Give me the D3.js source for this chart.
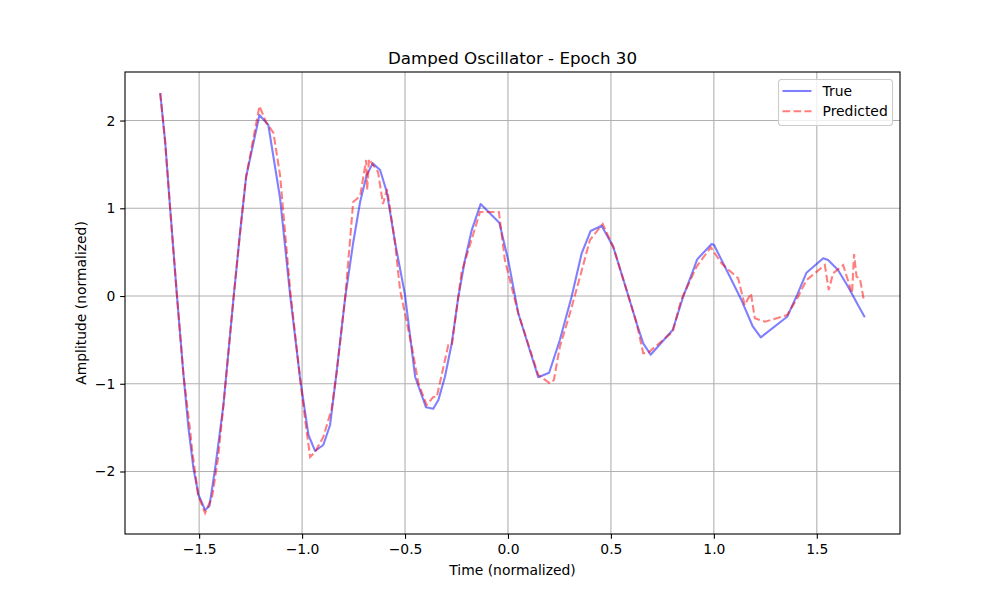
<!DOCTYPE html>
<html>
<head>
<meta charset="utf-8">
<script src="https://cdn.jsdelivr.net/npm/d3@7"></script>
<style>
  body { margin: 0; background: #fff; }
  text { font-family: "DejaVu Sans", sans-serif; fill: #000; }
</style>
</head>
<body>
<div id="chart"></div>
<script>
// Time samples and amplitudes
const tTrue = [-1.689, -1.665, -1.641, -1.608, -1.576, -1.552, -1.528, -1.503, -1.471, -1.450,
    -1.422, -1.382, -1.333, -1.301, -1.272, -1.207, -1.164, -1.107, -1.058, -1.010,
    -0.969, -0.937, -0.897, -0.864, -0.832, -0.791, -0.751, -0.718, -0.686, -0.657,
    -0.621, -0.589, -0.549, -0.500, -0.451, -0.398, -0.363, -0.338, -0.306, -0.273,
    -0.241, -0.209, -0.176, -0.133, -0.042, 0.001, 0.050, 0.147, 0.200, 0.252,
    0.309, 0.358, 0.401, 0.455, 0.511, 0.576, 0.625, 0.657, 0.693, 0.800,
    0.851, 0.900, 0.919, 0.989, 1.001, 1.078, 1.134, 1.188, 1.228, 1.356,
    1.404, 1.450, 1.531, 1.555, 1.603, 1.652, 1.700, 1.733];
const yTrue = [2.314, 1.758, 1.003, 0.011, -0.900, -1.504, -1.960, -2.268, -2.439, -2.393,
    -1.960, -1.242, -0.023, 0.729, 1.356, 2.063, 1.949, 1.117, 0.011, -0.934,
    -1.584, -1.766, -1.698, -1.470, -0.863, -0.023, 0.619, 1.075, 1.379, 1.512,
    1.436, 1.189, 0.619, 0.011, -0.920, -1.268, -1.284, -1.185, -0.920, -0.539,
    -0.008, 0.410, 0.752, 1.048, 0.835, 0.410, -0.197, -0.926, -0.874, -0.501,
    -0.008, 0.487, 0.741, 0.801, 0.562, 0.068, -0.311, -0.539, -0.669, -0.387,
    -0.008, 0.296, 0.418, 0.593, 0.581, 0.220, -0.046, -0.342, -0.471, -0.236,
    0.011, 0.266, 0.430, 0.410, 0.296, 0.106, -0.103, -0.243];

const tPred = [-1.689, -1.665, -1.641, -1.608, -1.576, -1.544, -1.534, -1.505, -1.471, -1.437,
    -1.408, -1.382, -1.333, -1.301, -1.272, -1.207, -1.175, -1.139, -1.107, -1.058,
    -1.010, -0.985, -0.961, -0.937, -0.897, -0.856, -0.832, -0.791, -0.767, -0.752,
    -0.718, -0.689, -0.684, -0.675, -0.631, -0.607, -0.587, -0.549, -0.524, -0.467,
    -0.435, -0.395, -0.363, -0.346, -0.290, -0.273, -0.225, -0.136, -0.044, -0.015,
    0.050, 0.147, 0.204, 0.223, 0.252, 0.301, 0.350, 0.398, 0.460, 0.511,
    0.576, 0.625, 0.657, 0.681, 0.800, 0.841, 0.916, 0.985, 1.037, 1.118,
    1.150, 1.180, 1.199, 1.248, 1.356, 1.409, 1.450, 1.539, 1.558, 1.579,
    1.628, 1.671, 1.681, 1.693, 1.709, 1.730];
const yPred = [2.312, 1.755, 1.003, 0.011, -0.900, -1.527, -1.755, -2.268, -2.473, -2.291,
    -1.846, -1.242, -0.023, 0.729, 1.356, 2.165, 1.983, 1.858, 1.379, 0.068,
    -0.934, -1.413, -1.835, -1.778, -1.607, -1.284, -0.866, -0.023, 0.638, 1.071,
    1.140, 1.550, 1.208, 1.561, 1.413, 1.048, 1.219, 0.615, 0.068, -0.578,
    -0.995, -1.242, -1.151, -1.151, -0.562, -0.562, 0.274, 0.957, 0.957, 0.410,
    -0.197, -0.900, -0.995, -0.957, -0.578, -0.197, 0.220, 0.638, 0.821, 0.562,
    0.068, -0.311, -0.653, -0.646, -0.407, -0.046, 0.334, 0.555, 0.373, 0.202,
    -0.103, 0.031, -0.254, -0.293, -0.217, -0.008, 0.182, 0.353, 0.068, 0.259,
    0.353, 0.031, 0.479, 0.220, 0.202, -0.065];

const xTicks = [-1.5, -1.0, -0.5, 0.0, 0.5, 1.0, 1.5];
const yTicks = [-2, -1, 0, 1, 2];

const seriesTrue = tTrue.map((t, i) => ({ t, v: yTrue[i] }));
const seriesPred = tPred.map((t, i) => ({ t, v: yPred[i] }));

// matplotlib-like figure layout (1000x600, axes 0.125-0.9 / 0.11-0.88)
const margin = { top: 72, right: 100, bottom: 66, left: 125 },
    width = 1000 - margin.left - margin.right,
    height = 600 - margin.top - margin.bottom;

const svg = d3.select("#chart").append("svg")
    .attr("width", 1000)
    .attr("height", 600);

const g = svg.append("g")
    .attr("transform", `translate(${margin.left},${margin.top})`);

// 5% padding around the data, like matplotlib autoscale
function padded(ext) {
    const pad = (ext[1] - ext[0]) * 0.05;
    return [ext[0] - pad, ext[1] + pad];
}
const allT = tTrue.concat(tPred), allV = yTrue.concat(yPred);

const x = d3.scaleLinear().domain(padded(d3.extent(allT))).range([0, width]);
const y = d3.scaleLinear().domain(padded(d3.extent(allV))).range([height, 0]);

const fmtX = d => d3.format(".1f")(d).replace("-", "\u2212");
const fmtY = d => String(d).replace("-", "\u2212");

// grid
g.append("g").selectAll("line").data(xTicks).join("line")
    .attr("x1", d => x(d)).attr("x2", d => x(d))
    .attr("y1", 0).attr("y2", height)
    .attr("stroke", "#b0b0b0").attr("stroke-width", 1.1);
g.append("g").selectAll("line").data(yTicks).join("line")
    .attr("x1", 0).attr("x2", width)
    .attr("y1", d => y(d)).attr("y2", d => y(d))
    .attr("stroke", "#b0b0b0").attr("stroke-width", 1.1);

const line = d3.line().x(d => x(d.t)).y(d => y(d.v));

g.append("path")
    .datum(seriesTrue)
    .attr("fill", "none")
    .attr("stroke", "blue")
    .attr("stroke-opacity", 0.5)
    .attr("stroke-width", 2.08)
    .attr("stroke-linejoin", "round")
    .attr("d", line);

g.append("path")
    .datum(seriesPred)
    .attr("fill", "none")
    .attr("stroke", "red")
    .attr("stroke-opacity", 0.5)
    .attr("stroke-width", 2.08)
    .attr("stroke-dasharray", "7.7,3.3")
    .attr("d", line);

// axes
const xAxis = g.append("g")
    .attr("transform", `translate(0,${height})`)
    .call(d3.axisBottom(x).tickValues(xTicks).tickFormat(fmtX).tickSize(4.86).tickPadding(4.86));
const yAxis = g.append("g")
    .call(d3.axisLeft(y).tickValues(yTicks).tickFormat(fmtY).tickSize(4.86).tickPadding(4.86));
[xAxis, yAxis].forEach(a => {
    a.select(".domain").remove();
    a.selectAll(".tick line").attr("stroke", "#000").attr("stroke-width", 1.1);
    a.selectAll("text").attr("font-family", "DejaVu Sans").attr("font-size", 13.9).attr("fill", "#000");
});

// spines
g.append("rect")
    .attr("width", width).attr("height", height)
    .attr("fill", "none").attr("stroke", "#000").attr("stroke-width", 1.1);

// labels
svg.append("text")
    .attr("x", margin.left + width / 2).attr("y", 64)
    .attr("text-anchor", "middle").attr("font-size", 16.7)
    .text("Damped Oscillator - Epoch 30");
svg.append("text")
    .attr("x", margin.left + width / 2).attr("y", 575)
    .attr("text-anchor", "middle").attr("font-size", 13.9)
    .text("Time (normalized)");
svg.append("text")
    .attr("transform", `translate(86,${margin.top + height / 2}) rotate(-90)`)
    .attr("text-anchor", "middle").attr("font-size", 13.9)
    .text("Amplitude (normalized)");

// legend
const legend = svg.append("g").attr("transform", "translate(778.5,79.5)");
legend.append("rect")
    .attr("width", 114).attr("height", 46).attr("rx", 3)
    .attr("fill", "#fff").attr("fill-opacity", 0.8)
    .attr("stroke", "#cccccc").attr("stroke-width", 1.1);
const items = [
    { label: "True", color: "blue", dash: null },
    { label: "Predicted", color: "red", dash: "7.7,3.3" }
];
items.forEach((it, i) => {
    const yy = 11.5 + i * 20.3;
    legend.append("line")
        .attr("x1", 4).attr("x2", 33).attr("y1", yy).attr("y2", yy)
        .attr("stroke", it.color).attr("stroke-opacity", 0.5)
        .attr("stroke-width", 2.08)
        .attr("stroke-dasharray", it.dash);
    legend.append("text")
        .attr("x", 44).attr("y", yy + 5)
        .attr("font-size", 13.9)
        .text(it.label);
});
</script>
</body>
</html>
